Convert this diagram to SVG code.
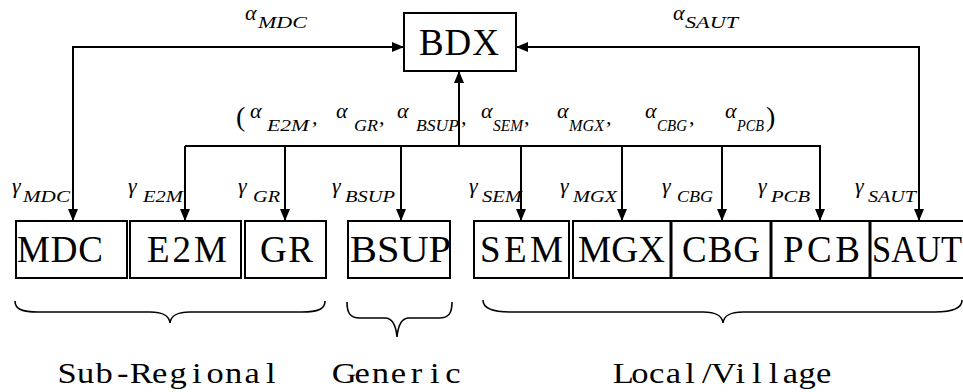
<svg xmlns="http://www.w3.org/2000/svg" width="963" height="392" viewBox="0 0 963 392">
  <style>
    .box { fill: #fff; stroke: #000; stroke-width: 2; }
    .lbl { font-family: "Liberation Serif", serif; font-size: 37px; fill: #000; }
    .gk { font-family: "Liberation Serif", serif; font-style: italic; font-size: 22px; fill: #000; }
    .sub { font-family: "Liberation Serif", serif; font-style: italic; font-size: 16px; fill: #000; }
    .par { font-family: "Liberation Serif", serif; font-size: 28px; fill: #000; }
    .wire { fill: none; stroke: #000; stroke-width: 2; }
    .brace { fill: none; stroke: #000; stroke-width: 1.6; }
    .grp { font-family: "Liberation Serif", serif; font-size: 30px; fill: #000; text-anchor: middle; }
  </style>
  <defs>
    <marker id="ah" viewBox="0 0 12 10" refX="12" refY="5" markerWidth="12" markerHeight="10" markerUnits="userSpaceOnUse" orient="auto-start-reverse">
      <path d="M0,0 L12,5 L0,10 z" fill="#000"/>
    </marker>
  </defs>

  <rect width="963" height="392" fill="#fff"/>

  <!-- nodes -->
  <g id="BDX">
    <rect class="box" x="404" y="13" width="112" height="58"/>
    <text class="lbl" x="419" y="55" textLength="80" lengthAdjust="spacing">BDX</text>
  </g>
  <g id="MDC">
    <rect class="box" x="16" y="221" width="111" height="57"/>
    <text class="lbl" x="17" y="262" textLength="86" lengthAdjust="spacing">MDC</text>
  </g>
  <g id="E2M">
    <rect class="box" x="130" y="221" width="111" height="57"/>
    <text class="lbl" x="147" y="262" textLength="80" lengthAdjust="spacing">E2M</text>
  </g>
  <g id="GR">
    <rect class="box" x="245" y="221" width="81" height="57"/>
    <text class="lbl" x="260" y="262" textLength="53" lengthAdjust="spacing">GR</text>
  </g>
  <g id="BSUP">
    <rect class="box" x="348" y="221" width="102" height="57"/>
    <text class="lbl" x="350" y="262" textLength="101" lengthAdjust="spacingAndGlyphs">BSUP</text>
  </g>
  <g id="SEM">
    <rect class="box" x="474" y="221" width="95" height="57"/>
    <text class="lbl" x="480" y="262" textLength="83" lengthAdjust="spacing">SEM</text>
  </g>
  <g id="MGX">
    <rect class="box" x="573" y="221" width="97.5" height="57"/>
    <text class="lbl" x="578" y="262" textLength="87" lengthAdjust="spacingAndGlyphs">MGX</text>
  </g>
  <g id="CBG">
    <rect class="box" x="671.5" y="221" width="99" height="57"/>
    <text class="lbl" x="682" y="262" textLength="78" lengthAdjust="spacing">CBG</text>
  </g>
  <g id="PCB">
    <rect class="box" x="771.5" y="221" width="98" height="57"/>
    <text class="lbl" x="783" y="262" textLength="77" lengthAdjust="spacing">PCB</text>
  </g>
  <g id="SAUT">
    <rect class="box" x="870.5" y="221" width="110" height="57"/>
    <text class="lbl" x="872" y="262" textLength="90" lengthAdjust="spacingAndGlyphs">SAUT</text>
  </g>

  <!-- connectors -->
  <g id="connectors">
    <path class="wire" d="M73,221 L73,47 L404,47" marker-start="url(#ah)" marker-end="url(#ah)"/>
    <path class="wire" d="M919,221 L919,47 L516,47" marker-start="url(#ah)" marker-end="url(#ah)"/>
    <path class="wire" d="M459,146 L459,71" marker-end="url(#ah)"/>
    <path class="wire" d="M185,146 L821,146"/>
    <path class="wire" d="M185,146 L185,221" marker-end="url(#ah)"/>
    <path class="wire" d="M285,146 L285,221" marker-end="url(#ah)"/>
    <path class="wire" d="M401,146 L401,221" marker-end="url(#ah)"/>
    <path class="wire" d="M521,146 L521,221" marker-end="url(#ah)"/>
    <path class="wire" d="M622,146 L622,221" marker-end="url(#ah)"/>
    <path class="wire" d="M722,146 L722,221" marker-end="url(#ah)"/>
    <path class="wire" d="M820,146 L820,221" marker-end="url(#ah)"/>
  </g>

  <!-- weights into BDX -->
  <g id="alpha-labels">
    <text class="gk" x="245" y="20">α</text>
    <text class="sub" x="258" y="28" textLength="49" lengthAdjust="spacingAndGlyphs">MDC</text>
    <text class="gk" x="673" y="20">α</text>
    <text class="sub" x="685" y="28" textLength="53" lengthAdjust="spacingAndGlyphs">SAUT</text>

    <text class="par" x="236" y="126">(</text>
    <text class="gk" x="250" y="118">α</text>
    <text class="sub" x="267" y="131" textLength="42" lengthAdjust="spacingAndGlyphs">E2M</text>
    <text class="gk" x="312" y="124">,</text>
    <text class="gk" x="336" y="118">α</text>
    <text class="sub" x="354" y="131" textLength="24" lengthAdjust="spacingAndGlyphs">GR</text>
    <text class="gk" x="379" y="124">,</text>
    <text class="gk" x="397" y="118">α</text>
    <text class="sub" x="416" y="131" textLength="43" lengthAdjust="spacingAndGlyphs">BSUP</text>
    <text class="gk" x="461" y="124">,</text>
    <text class="gk" x="481" y="118">α</text>
    <text class="sub" x="493" y="131" textLength="30" lengthAdjust="spacingAndGlyphs">SEM</text>
    <text class="gk" x="524" y="124">,</text>
    <text class="gk" x="557" y="118">α</text>
    <text class="sub" x="569" y="131" textLength="35" lengthAdjust="spacingAndGlyphs">MGX</text>
    <text class="gk" x="606" y="124">,</text>
    <text class="gk" x="645" y="118">α</text>
    <text class="sub" x="657" y="131" textLength="30" lengthAdjust="spacingAndGlyphs">CBG</text>
    <text class="gk" x="689" y="124">,</text>
    <text class="gk" x="725" y="118">α</text>
    <text class="sub" x="737" y="131" textLength="27" lengthAdjust="spacingAndGlyphs">PCB</text>
    <text class="par" x="766" y="126">)</text>
  </g>

  <!-- weights out of BDX -->
  <g id="gamma-labels">
    <text class="gk" x="12" y="193">γ</text>
    <text class="sub" x="23" y="202" textLength="47" lengthAdjust="spacingAndGlyphs">MDC</text>
    <text class="gk" x="128" y="193">γ</text>
    <text class="sub" x="143" y="202" textLength="40" lengthAdjust="spacingAndGlyphs">E2M</text>
    <text class="gk" x="238" y="193">γ</text>
    <text class="sub" x="253" y="202" textLength="27" lengthAdjust="spacingAndGlyphs">GR</text>
    <text class="gk" x="332" y="193">γ</text>
    <text class="sub" x="345" y="202" textLength="50" lengthAdjust="spacingAndGlyphs">BSUP</text>
    <text class="gk" x="469" y="193">γ</text>
    <text class="sub" x="482" y="202" textLength="40" lengthAdjust="spacingAndGlyphs">SEM</text>
    <text class="gk" x="560" y="193">γ</text>
    <text class="sub" x="573" y="202" textLength="44" lengthAdjust="spacingAndGlyphs">MGX</text>
    <text class="gk" x="662" y="193">γ</text>
    <text class="sub" x="677" y="202" textLength="36" lengthAdjust="spacingAndGlyphs">CBG</text>
    <text class="gk" x="758" y="193">γ</text>
    <text class="sub" x="771" y="202" textLength="39" lengthAdjust="spacingAndGlyphs">PCB</text>
    <text class="gk" x="855" y="193">γ</text>
    <text class="sub" x="868" y="202" textLength="48" lengthAdjust="spacingAndGlyphs">SAUT</text>
  </g>

  <!-- group braces -->
  <g id="braces">
    <path class="brace" d="M15,301 C15,309 22,312 38,312 L150,312 C164,312 169,316 170,323 C171,316 176,312 190,312 L302,312 C318,312 325,309 325,301"/>
    <path class="brace" d="M347,302 C347,313 350,318 360,318 L385,318 C393,318 396,326 397,337 C398,326 401,318 409,318 L439,318 C449,318 452,313 452,302"/>
    <path class="brace" d="M483,300 C483,308 492,312 510,312 L703,312 C717,312 722,316 723,323 C724,316 729,312 743,312 L935,312 C953,312 962,308 962,300"/>
  </g>

  <!-- group captions: one glyph per fixed-width cell, widened a little -->
  <g transform="scale(1.15 1)">
    <text class="grp" x="58.43 74.52 90.61 106.7 122.78 138.87 154.96 171.04 187.13 203.22 219.3 235.39" y="383">Sub-Regional</text>
    <text class="grp" x="299.22 314.96 330.78 346.52 362.26 378.09 393.83" y="383">Generic</text>
    <text class="grp" x="542 556.52 571.04 585.57 600.09 614.61 629.13 643.65 658.17 672.7 687.22 701.74 716.26" y="383">Local/Village</text>
  </g>
</svg>
